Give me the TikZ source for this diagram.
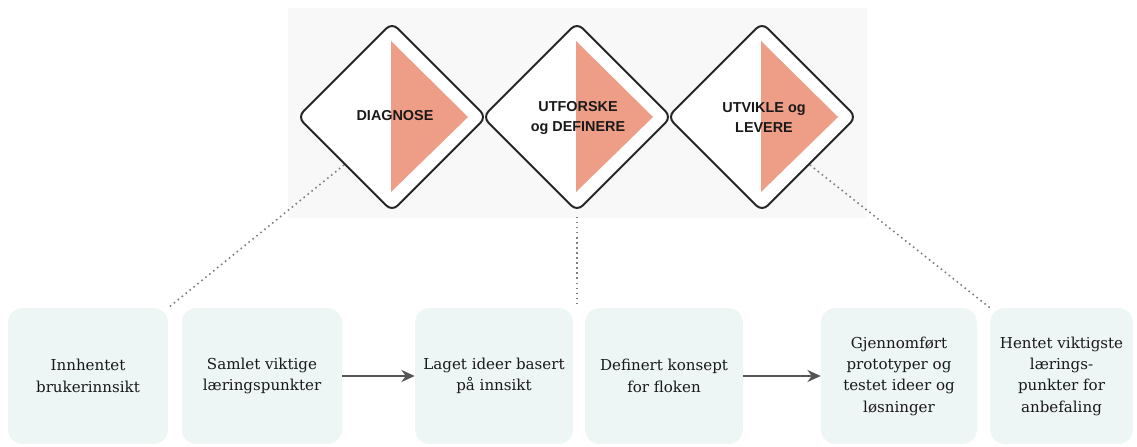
\documentclass[tikz,border=0pt]{standalone}
\usepackage{fontspec}
\setmainfont{DejaVu Serif}
\newfontfamily\phasefont{Liberation Sans}
\usetikzlibrary{shapes.geometric,arrows.meta}

\definecolor{salmon}{RGB}{238,158,134}
\definecolor{boxfill}{RGB}{237,245,245}
\definecolor{greybg}{RGB}{248,248,248}
\definecolor{arrowgrey}{RGB}{85,85,85}

\begin{document}
\begin{tikzpicture}[
    x=0.75pt, y=-0.75pt,
    >={Stealth[length=10pt,width=9pt]},
    phase/.style={diamond, draw=black!85, line width=1.5pt, rounded corners=6pt,
        fill=white, minimum size=142pt, inner sep=0pt},
    phasetext/.style={font=\phasefont\bfseries\fontsize{10.8}{15}\selectfont,
        align=center, text=black!90},
    stepbox/.style={rectangle, rounded corners=11pt, fill=boxfill,
        minimum width=120pt, minimum height=102pt, inner sep=0pt, align=center,
        font=\fontsize{11.3}{16}\selectfont, text=black!90},
    link/.style={line width=1.2pt, dash pattern=on 1.2pt off 2.6pt, gray}
]
\useasboundingbox (0,0) rectangle (1137,446);
\fill[greybg] (288,8) rectangle (867,218);

% the three phases
\node[phase] (diag) at (392,117) {};
\node[phase] (utf) at (577,117) {};
\node[phase] (utv) at (762,117) {};

\foreach \cx in {392,577,762}
    \fill[salmon] (\cx-1,41) -- (\cx-1,192) -- (\cx+76,117) -- cycle;

\node[phasetext] (diagtext) at (395,116) {DIAGNOSE};
\node[phasetext] (utftext) at (578,118) {UTFORSKE\\og DEFINERE};
\node[phasetext] (utvtext) at (764,118) {UTVIKLE og\\LEVERE};

% results
\node[stepbox] (innhent) at (88,376) {Innhentet\\brukerinnsikt};
\node[stepbox] (samlet) at (262,376) {Samlet viktige\\læringspunkter};
\node[stepbox, minimum width=118.5pt] (laget) at (494,376) {Laget ideer basert\\på innsikt};
\node[stepbox, minimum width=118.5pt] (konsept) at (664,376) {Definert konsept\\for floken};
\node[stepbox, minimum width=117pt] (proto) at (899,376) {Gjennomført\\prototyper og\\testet ideer og\\løsninger};
\node[stepbox, minimum width=107pt] (hentet) at (1061.5,376) {Hentet viktigste\\lærings-\\punkter for\\anbefaling};

\draw[->,line width=1.5pt,arrowgrey] (samlet) -- (laget);
\draw[->,line width=1.5pt,arrowgrey] (konsept) -- (proto);

\draw[link] (diag.south west) -- (innhent.north east);
\draw[link] ([yshift=-3pt]utf.south) -- (utf.south |- laget.north);
\draw[link] (utv.south east) -- (hentet.north west);
\end{tikzpicture}
\end{document}
